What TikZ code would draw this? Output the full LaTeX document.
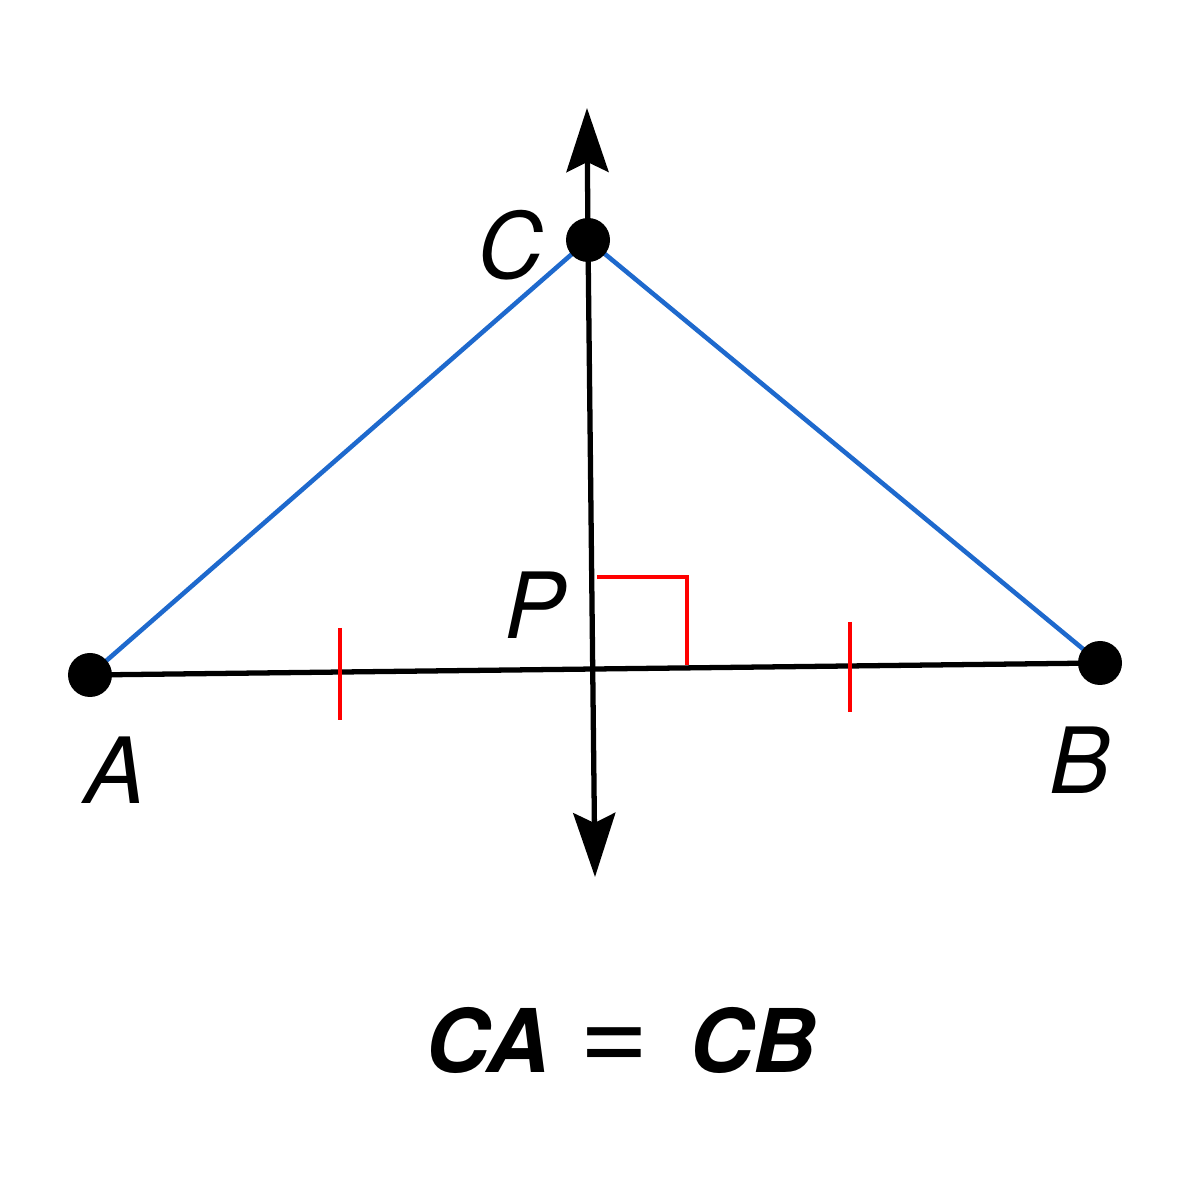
\documentclass[tikz,border=0pt]{standalone}
\usepackage{fontspec}
\setmainfont{TeX Gyre Heros}
\usepackage{tikz}
\usetikzlibrary{calc,arrows.meta}
\definecolor{sideblue}{RGB}{30,105,205}

\begin{document}
\begin{tikzpicture}[
        dot/.style={circle,fill=black,inner sep=0pt,minimum size=0.44cm},
        lbl/.style={font=\fontsize{26}{30}\selectfont\itshape},
        seg/.style={line width=1.3pt,sideblue},
        redmark/.style={line width=1.1pt,red},
        bisector/.style={line width=1.5pt,-{Stealth[length=0.64cm,width=0.42cm,inset=0.1cm]}}
    ]
        \useasboundingbox (0,0) rectangle (11.84,12);
        \coordinate (A) at (0.90,5.25);
        \coordinate (B) at (11.00,5.37);
        \coordinate (C) at (5.88,9.60);
        \coordinate (top) at (5.87,10.92);
        \coordinate (bot) at (5.95,3.23);
        % perpendicular bisector
        \draw[bisector] (C) -- (top);
        \draw[bisector] (C) -- (bot);
        % segment AB and sides
        \draw[line width=1.5pt] (A) -- (B);
        \draw[seg] (A) -- (C) -- (B);
        % right angle marker
        \draw[redmark] (5.97,6.23) -- (6.87,6.23) -- (6.87,5.35);
        % equal marks
        \draw[redmark] (3.40,5.72) -- (3.40,4.80);
        \draw[redmark] (8.50,5.78) -- (8.50,4.88);
        \node[dot] (a) at (A) {};
        \node[dot] (b) at (B) {};
        \node[dot] (c) at (C) {};
        \node[lbl] (la) at (1.15,4.30) {A};
        \node[lbl] (lb) at (10.80,4.40) {B};
        \node[lbl] (lc) at (5.10,9.55) {C};
        \node[lbl] (lp) at (5.35,5.95) {P};
        \node[font=\fontsize{25}{30}\selectfont\bfseries\itshape] (eq) at (6.21,1.60) {CA\hspace{0.3cm}{\fontsize{34}{34}\selectfont\mdseries\upshape =}\hspace{0.4cm}CB};
    \end{tikzpicture}
\end{document}
